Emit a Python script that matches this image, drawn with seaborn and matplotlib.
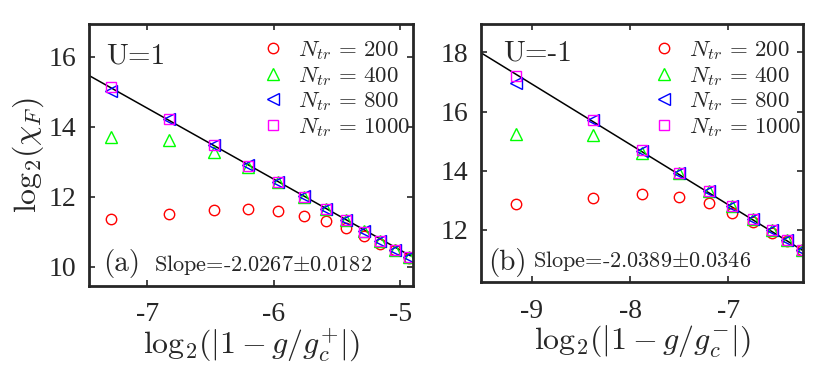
import numpy as np
import matplotlib
matplotlib.use("Agg")
import matplotlib.pyplot as plt
import seaborn as sns

# panel (a): U = 1
x_a = [-7.29, -6.83, -6.47, -6.20, -5.97, -5.76, -5.59, -5.43, -5.29, -5.16, -5.04, -4.93]
n200_a = [11.35, 11.52, 11.62, 11.64, 11.60, 11.45, 11.31, 11.10, 10.88, 10.65, 10.48, 10.24]
n400_a = [13.71, 13.62, 13.29, 12.86, 12.41, 12.00, 11.65, 11.33, 11.01, 10.73, 10.48, 10.27]
n800_a = [15.02, 14.22, 13.49, 12.91, 12.43, 12.01, 11.65, 11.34, 11.02, 10.74, 10.49, 10.28]
n1000_a = [15.14, 14.21, 13.48, 12.89, 12.41, 12.00, 11.64, 11.33, 11.00, 10.73, 10.48, 10.27]
fit_a = (-2.0267, 0.341)
fit_x_a = [-7.46, -4.92]

# panel (b): U = -1
x_b = [-9.16, -8.38, -7.88, -7.50, -7.20, -6.96, -6.75, -6.56, -6.40, -6.25]
n200_b = [12.86, 13.09, 13.21, 13.12, 12.92, 12.58, 12.27, 11.91, 11.63, 11.32]
n400_b = [15.24, 15.21, 14.61, 13.93, 13.33, 12.81, 12.36, 12.00, 11.66, 11.32]
n800_b = [16.95, 15.73, 14.68, 13.92, 13.32, 12.80, 12.36, 11.99, 11.65, 11.31]
n1000_b = [17.20, 15.71, 14.70, 13.93, 13.33, 12.81, 12.36, 12.00, 11.66, 11.32]
fit_b = (-2.0389, -1.423)
fit_x_b = [-9.52, -6.25]

n_labels = ["200", "400", "800", "1000"]

sns.set_theme(style="ticks")
plt.rcParams["font.family"] = ["Liberation Serif", "DejaVu Serif"]
plt.rcParams["mathtext.fontset"] = "cm"
plt.rcParams["axes.unicode_minus"] = False

styles = [("o", "#ff0000", 7.5), ("^", "#00ff00", 8.5), ("<", "#0000ff", 8.5), ("s", "#ff00ff", 7.0)]


def draw_panel(ax, x, series, fit, fit_x, xlim, ylim, xticks, yticks, u_text, tag, slope_text, xlabel):
    xf = np.array(fit_x)
    sns.lineplot(x=xf, y=fit[0] * xf + fit[1], color="black", linewidth=1.1, ax=ax, legend=False)
    for ys, lab, (m, c, ms) in zip(series, n_labels, styles):
        sns.lineplot(x=x, y=ys, ax=ax, marker=m, linestyle="", color=c,
                     markerfacecolor="none", markeredgecolor=c, markersize=ms,
                     markeredgewidth=1.0, label=r"$N_{tr}\,=\,%s$" % lab)
    ax.set_xlim(xlim)
    ax.set_ylim(ylim)
    ax.set_xticks(xticks)
    ax.set_yticks(yticks)
    ax.set_xticklabels([str(t) for t in xticks])
    ax.set_yticklabels([str(t) for t in yticks])
    ax.tick_params(direction="in", length=4, width=1.2, top=True, right=True,
                   labelsize=20, colors="#262626", pad=9)
    ax.tick_params(axis="x", pad=12)
    for s in ax.spines.values():
        s.set_linewidth(2.0)
        s.set_color("#262626")
    ax.set_xlabel(xlabel, fontsize=23, labelpad=0)
    ax.set_ylabel("")
    ax.legend(loc="upper left", bbox_to_anchor=(0.49, 0.995), frameon=False,
              fontsize=16.5, handlelength=1.0, handletextpad=0.6,
              labelspacing=0.12, borderaxespad=0.2, numpoints=1)
    ax.text(u_text[1], u_text[2], u_text[0], transform=ax.transAxes, fontsize=21,
            family="cmr10", va="baseline")
    ax.text(tag[1], tag[2], tag[0], transform=ax.transAxes, fontsize=21,
            family="cmr10", va="baseline")
    ax.text(slope_text[1], slope_text[2], slope_text[0], transform=ax.transAxes,
            fontsize=16, family="cmr10", va="baseline")


fig = plt.figure(figsize=(8.3, 3.66), dpi=100)
ax_a = fig.add_axes([89 / 830, 1 - 285.7 / 366, 324 / 830, 261.7 / 366])
ax_b = fig.add_axes([481 / 830, 1 - 282 / 366, 322 / 830, 258 / 366])

draw_panel(ax_a, x_a, [n200_a, n400_a, n800_a, n1000_a], fit_a, fit_x_a,
           (-7.46, -4.90), (9.46, 16.93), [-7, -6, -5], [10, 12, 14, 16],
           ("U=1", 0.054, 0.85), ("(a)", 0.044, 0.056),
           ("Slope=-2.0267$\\pm$0.0182", 0.20, 0.056),
           r"$\mathrm{log}_2(|1-g/g_c^{+}|)$")
draw_panel(ax_b, x_b, [n200_b, n400_b, n800_b, n1000_b], fit_b, fit_x_b,
           (-9.52, -6.24), (10.24, 18.96), [-9, -8, -7], [12, 14, 16, 18],
           ("U=-1", 0.069, 0.86), ("(b)", 0.023, 0.045),
           ("Slope=-2.0389$\\pm$0.0346", 0.162, 0.06),
           r"$\mathrm{log}_2(|1-g/g_c^{-}|)$")
ax_a.set_ylabel(r"$\mathrm{log}_2(\chi_F)$", fontsize=23, labelpad=2)

fig.savefig("out.png", dpi=100)
